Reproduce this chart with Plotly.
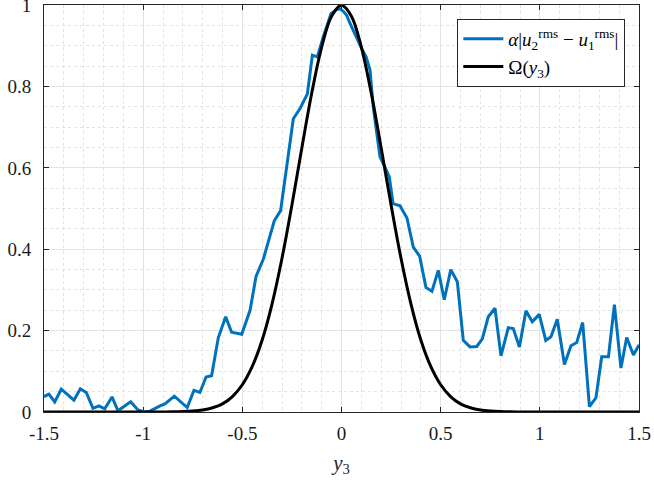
import plotly.graph_objects as go

# Blue series: alpha |u2_rms - u1_rms|
x_blue = [-1.500, -1.475, -1.446, -1.413, -1.349, -1.317, -1.287, -1.253, -1.223, -1.194,
          -1.157, -1.127, -1.063, -1.026, -0.995, -0.966, -0.915, -0.890, -0.843, -0.778,
          -0.744, -0.714, -0.683, -0.655, -0.621, -0.584, -0.554, -0.503, -0.461, -0.431,
          -0.394, -0.339, -0.307, -0.285, -0.243, -0.209, -0.172, -0.147, -0.122, -0.092,
          -0.053, -0.024, -0.008, 0.009, 0.026, 0.043, 0.077, 0.102, 0.124, 0.144,
          0.160, 0.194, 0.219, 0.241, 0.260, 0.295, 0.330, 0.362, 0.394, 0.426,
          0.456, 0.488, 0.518, 0.551, 0.584, 0.614, 0.648, 0.682, 0.710, 0.740,
          0.774, 0.804, 0.841, 0.866, 0.897, 0.930, 0.962, 0.997, 1.030, 1.056,
          1.088, 1.124, 1.157, 1.186, 1.216, 1.250, 1.283, 1.312, 1.346, 1.376,
          1.409, 1.438, 1.472, 1.500]
y_blue = [0.038, 0.044, 0.025, 0.056, 0.029, 0.057, 0.048, 0.009, 0.015, 0.008,
          0.037, 0.003, 0.025, 0.005, 0.000, 0.002, 0.015, 0.020, 0.039, 0.011,
          0.053, 0.048, 0.086, 0.089, 0.183, 0.234, 0.196, 0.191, 0.250, 0.333,
          0.376, 0.470, 0.495, 0.571, 0.721, 0.746, 0.782, 0.877, 0.873, 0.922,
          0.979, 0.989, 0.991, 0.985, 0.975, 0.955, 0.918, 0.893, 0.873, 0.840,
          0.750, 0.627, 0.602, 0.578, 0.512, 0.507, 0.477, 0.405, 0.383, 0.306,
          0.297, 0.348, 0.276, 0.350, 0.320, 0.176, 0.160, 0.161, 0.180, 0.234,
          0.255, 0.138, 0.207, 0.205, 0.160, 0.249, 0.222, 0.240, 0.176, 0.185,
          0.228, 0.117, 0.163, 0.171, 0.220, 0.013, 0.035, 0.136, 0.136, 0.264,
          0.108, 0.183, 0.140, 0.165]

# Black series: Omega(y3)
x_omega = [-1.5, -1.2, -1.0, -0.9, -0.85, -0.8, -0.75, -0.7, -0.65, -0.6, -0.55, -0.5,
           -0.45, -0.4, -0.35, -0.3, -0.25, -0.2, -0.15, -0.1, -0.05, 0.0,
           0.05, 0.1, 0.15, 0.2, 0.25, 0.3, 0.35, 0.4, 0.45, 0.5, 0.55, 0.6,
           0.65, 0.7, 0.75, 0.8, 0.85, 0.9, 1.0, 1.2, 1.5]
y_omega = [0.0, 0.0, 0.0, 0.0002, 0.0004, 0.001, 0.0023, 0.005, 0.0104, 0.020, 0.038, 0.067,
           0.112, 0.177, 0.266, 0.378, 0.509, 0.649, 0.784, 0.897, 0.973, 1.0,
           0.973, 0.897, 0.784, 0.649, 0.509, 0.378, 0.266, 0.177, 0.112, 0.067, 0.038, 0.020,
           0.0104, 0.005, 0.0023, 0.001, 0.0004, 0.0002, 0.0, 0.0, 0.0]

x_tickvals = [-1.5, -1, -0.5, 0, 0.5, 1, 1.5]
x_ticktext = ["-1.5", "-1", "-0.5", "0", "0.5", "1", "1.5"]
y_tickvals = [0, 0.2, 0.4, 0.6, 0.8, 1]
y_ticktext = ["0", "0.2", "0.4", "0.6", "0.8", "1"]

FONT = "Liberation Serif, serif"
AX = "#262626"

fig = go.Figure()
fig.add_trace(go.Scatter(
    x=x_blue, y=y_blue, mode="lines",
    line=dict(color="#0072BD", width=3),
    name="<i>α</i>|<i>u</i><sub>2</sub><sup>rms</sup> − <i>u</i><sub>1</sub><sup>rms</sup>|"))
fig.add_trace(go.Scatter(
    x=x_omega, y=y_omega, mode="lines",
    line=dict(color="black", width=3, shape="spline", smoothing=1.0),
    name="Ω(<i>y</i><sub>3</sub>)"))

for ax_update, extra in (
    (fig.update_xaxes, dict(
        range=[-1.5, 1.5], tickvals=x_tickvals, ticktext=x_ticktext,
        minor=dict(dtick=0.1, showgrid=True, gridcolor="#e3e3e3", griddash="dot", ticks=""),
        title=dict(text="<i>y</i><sub>3</sub>",
                   font=dict(family=FONT, size=21, color=AX), standoff=12),
        ticklabelstandoff=4)),
    (fig.update_yaxes, dict(
        range=[0, 1.0004], tickvals=y_tickvals, ticktext=y_ticktext,
        minor=dict(dtick=0.05, showgrid=True, gridcolor="#e3e3e3", griddash="dot", ticks=""),
        ticklabelstandoff=8)),
):
    ax_update(
        tickmode="array",
        showline=True, linecolor=AX, linewidth=1, mirror="ticks",
        ticks="inside", ticklen=5, tickcolor=AX, tickwidth=1,
        showgrid=True, gridcolor="#e3e3e3", gridwidth=1,
        zeroline=False, automargin=False,
        ticklabeloverflow="allow",
        tickfont_family=FONT, tickfont_size=19, tickfont_color="#1a1a1a",
        **extra)

fig.update_layout(
    width=654, height=483,
    margin=dict(l=44, r=15, t=5, b=71),
    plot_bgcolor="white", paper_bgcolor="white",
    font=dict(family=FONT, color=AX, size=19),
    showlegend=True,
    legend=dict(
        x=0.977, y=0.966, xanchor="right", yanchor="top",
        bgcolor="white", bordercolor=AX, borderwidth=1,
        font=dict(family=FONT, size=19, color="black"),
        tracegroupgap=0, itemwidth=40,
    ),
)

fig.write_html("out.html")
